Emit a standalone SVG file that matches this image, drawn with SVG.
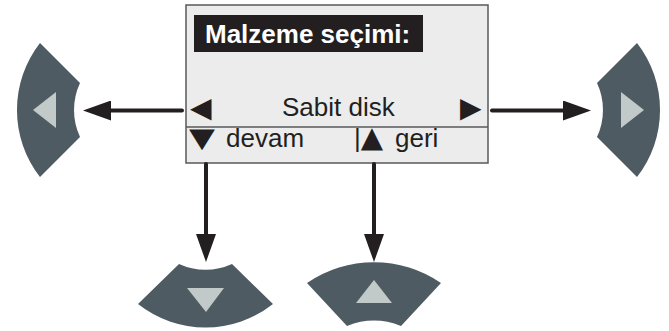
<svg xmlns="http://www.w3.org/2000/svg" width="669" height="331" viewBox="0 0 669 331">
<defs>
<style>
.btn{fill:#4f5b63}
.tri{fill:#c1cac9}
.lbl{font-family:"Liberation Sans",Arial,sans-serif;font-size:26px;fill:#231f20}
.sym{font-family:"DejaVu Sans",sans-serif;font-size:26px;fill:#231f20}
.conn{stroke:#231f20;stroke-width:4;stroke-linecap:round;fill:none}
</style>
<marker id="ah" viewBox="0 0 28 20" refX="2" refY="10" markerWidth="28" markerHeight="20" markerUnits="userSpaceOnUse" orient="auto">
<path d="M0,0 L28,10 L0,20 Z" fill="#231f20"/>
</marker>
</defs>
<rect width="669" height="331" fill="#ffffff"/>
<g id="display">
<rect x="186" y="5" width="302" height="158" fill="#ebeceb" stroke="#58595b" stroke-width="1.5"/>
<line x1="186" y1="127" x2="488" y2="127" stroke="#58595b" stroke-width="1.5"/>
<rect x="194" y="15" width="229" height="37" fill="#231f20"/>
<text x="205" y="43" class="lbl" style="font-weight:bold;fill:#ffffff">Malzeme seçimi:</text>
<text x="190" y="117" class="sym" style="font-size:28px">◀</text>
<text x="282" y="116" class="lbl">Sabit disk</text>
<text x="460" y="117" class="sym" style="font-size:28px">▶</text>
<text class="sym" transform="translate(189,147) scale(1.3,1.05)">▼</text>
<text x="226" y="147" class="lbl">devam</text>
<text x="354" y="147" class="lbl">|<tspan style="font-family:'DejaVu Sans',sans-serif;font-size:29px">▲</tspan></text>
<text x="395" y="147" class="lbl">geri</text>
</g>
<g id="btn-left">
<path class="btn" d="M40,43 L80,83 A64,64 0 0 0 80,137 L40,177 A109,109 0 0 1 40,43 Z"/>
<polygon class="tri" points="33,110 56,92 56,128"/>
</g>
<g id="btn-right">
<path class="btn" d="M637,43 L597,83 A64,64 0 0 1 597,137 L637,177 A109,109 0 0 0 637,43 Z"/>
<polygon class="tri" points="644,110 621,92 621,128"/>
</g>
<g id="btn-down">
<path class="btn" d="M138,304 L179,264 A64,64 0 0 0 232,264 L273,304 A109,109 0 0 1 138,304 Z"/>
<polygon class="tri" points="187,288 224,288 206,312"/>
</g>
<g id="btn-up">
<path class="btn" d="M307,283 A118,118 0 0 1 441,283 L401,326 A72,72 0 0 0 347,326 Z"/>
<polygon class="tri" points="356,303 392,303 374,280"/>
</g>
<g id="connectors">
<line class="conn" x1="182" y1="110.5" x2="109" y2="110.5" marker-end="url(#ah)"/>
<line class="conn" x1="492" y1="110.5" x2="565" y2="110.5" marker-end="url(#ah)"/>
<line class="conn" x1="206" y1="164" x2="206" y2="236" marker-end="url(#ah)"/>
<line class="conn" x1="374" y1="164" x2="374" y2="236" marker-end="url(#ah)"/>
</g>
</svg>
